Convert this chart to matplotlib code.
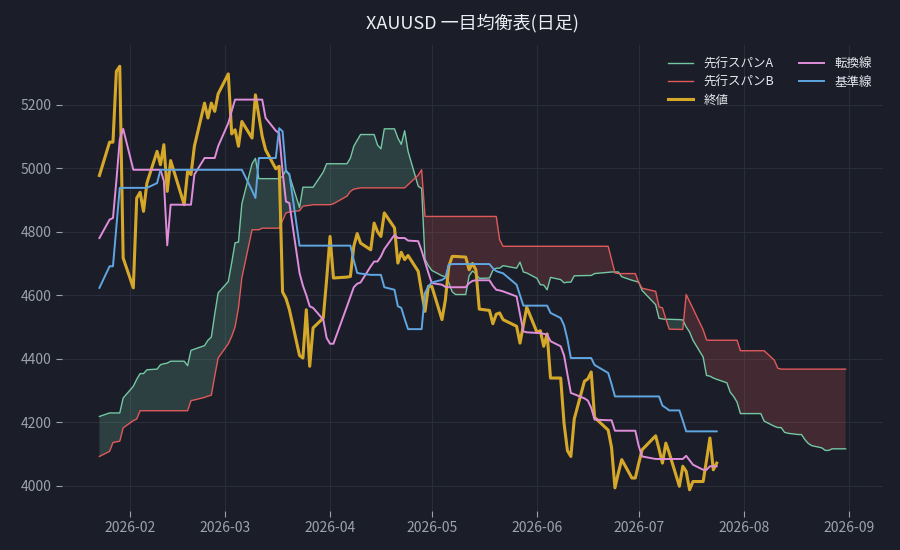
import matplotlib
matplotlib.use("Agg")
import matplotlib.pyplot as plt
import matplotlib.dates as mdates
import numpy as np
import pandas as pd

plt.rcParams['font.family'] = ['Noto Sans CJK JP', 'DejaVu Sans']

# ---------------- data ----------------
holidays = ['2026-02-16', '2026-04-03', '2026-05-25', '2026-06-19', '2026-07-03']
dates = pd.bdate_range('2026-01-23', '2026-07-24')
dates = dates[~dates.isin(pd.to_datetime(holidays))]
future_dates = pd.bdate_range('2026-07-27', '2026-08-31')
span_dates = dates.append(future_dates)

close = [
    4977, 5082, 5082, 5305, 5321, 4717,
    4623, 4906, 4924, 4864, 4953,
    5053, 5011, 5074, 4927, 5024,
    4885, 4990, 4980, 5069,
    5205, 5158, 5205, 5179, 5234,
    5297, 5108, 5121, 5069, 5147,
    5095, 5231, 5165, 5100, 5058,
    4998, 5006, 4610, 4590, 4555,
    4410, 4402, 4554, 4376, 4497,
    4528, 4650, 4785, 4654,
    4657, 4659, 4754, 4794, 4764,
    4743, 4827, 4800, 4785, 4859,
    4812, 4701, 4735, 4712, 4725,
    4675, 4610, 4549, 4628, 4628,
    4523, 4585, 4690, 4722, 4722,
    4720, 4680, 4700, 4680, 4556,
    4552, 4510, 4540, 4544, 4523,
    4502, 4449, 4505, 4562,
    4483, 4488, 4439, 4478, 4339,
    4339, 4195, 4110, 4092, 4210,
    4329, 4336, 4358, 4215,
    4175, 4120, 3993, 4040, 4082,
    4024, 4024, 4070, 4113,
    4157, 4115, 4071, 4134, 4103,
    3998, 4061, 4045, 3987, 4013,
    4013, 4080, 4150, 4050, 4071,
]

tenkan = [
    4780, 4838, 4843, 4960, 5090, 5124,
    4995, 4995, 4995, 4995, 4995,
    4995, 4995, 4960, 4757, 4885,
    4885, 4885, 4885, 4980,
    5032, 5032, 5032, 5032, 5069,
    5142, 5180, 5216, 5216, 5216,
    5216, 5216, 5216, 5216, 5158,
    5118, 5110, 4990, 4895, 4890,
    4670, 4630, 4600, 4565, 4560,
    4523, 4465, 4447, 4447,
    4565, 4595, 4625, 4636, 4640,
    4691, 4706, 4706, 4722, 4745,
    4790, 4780, 4780, 4780, 4772,
    4770, 4740, 4705, 4670, 4638,
    4633, 4626, 4625, 4625, 4625,
    4625, 4638, 4645, 4647, 4647,
    4647, 4630, 4617, 4615, 4612,
    4596, 4540, 4486, 4483,
    4481, 4481, 4478, 4476, 4455,
    4439, 4410, 4350, 4292, 4288,
    4275, 4268, 4245, 4208,
    4206, 4206, 4173, 4173, 4173,
    4173, 4173, 4125, 4092,
    4084, 4084, 4084, 4084, 4084,
    4084, 4084, 4094, 4080, 4066,
    4050, 4050, 4061, 4061, 4061,
]

kijun = [
    4623, 4691, 4691, 4815, 4938, 4938,
    4938, 4938, 4938, 4938, 4938,
    4953, 4995, 4995, 4995, 4995,
    4995, 4995, 4995, 4995,
    4995, 4995, 4995, 4995, 4995,
    4995, 4995, 4995, 4995, 4995,
    4930, 4906, 5032, 5032, 5032,
    5032, 5126, 5116, 4990, 4982,
    4756, 4756, 4756, 4756, 4756,
    4756, 4756, 4756, 4756,
    4756, 4756, 4710, 4670, 4668,
    4664, 4664, 4664, 4664, 4625,
    4617, 4565, 4560, 4525, 4493,
    4493, 4493, 4607, 4628, 4640,
    4648, 4655, 4696, 4698, 4698,
    4698, 4698, 4698, 4698, 4698,
    4698, 4685, 4676, 4672, 4669,
    4633, 4600, 4567, 4567,
    4567, 4567, 4567, 4567, 4544,
    4528, 4505, 4460, 4402, 4402,
    4402, 4402, 4402, 4380,
    4355, 4320, 4281, 4281, 4281,
    4281, 4281, 4281, 4281,
    4281, 4281, 4252, 4245, 4237,
    4237, 4205, 4171, 4171, 4171,
    4171, 4171, 4171, 4171, 4171,
]

span_a = [
    4218, 4229, 4229, 4229, 4229, 4276,
    4313, 4335, 4353, 4353, 4365,
    4367, 4381, 4384, 4386, 4392,
    4392, 4378, 4426, 4430,
    4441, 4458, 4468, 4540, 4607,
    4643, 4702, 4765, 4767, 4888,
    5014, 5031, 4967, 4967, 4967,
    4967, 4967, 4974, 4995, 4978,
    4876, 4940, 4940, 4940, 4940,
    4988, 5014, 5014, 5014,
    5014, 5032, 5069, 5088, 5106,
    5106, 5106, 5073, 5061, 5124,
    5124, 5095, 5075, 5118, 5053,
    4943, 4936, 4713, 4693, 4678,
    4661, 4658, 4640, 4611, 4602,
    4602, 4661, 4676, 4668, 4653,
    4654, 4678, 4685, 4685, 4693,
    4685, 4704, 4673, 4670,
    4653, 4633, 4632, 4617, 4656,
    4649, 4639, 4641, 4641, 4661,
    4662, 4662, 4662, 4668,
    4672, 4673, 4673, 4673, 4658,
    4647, 4644, 4641, 4615,
    4570, 4527, 4525, 4524, 4524,
    4523, 4522, 4500, 4484, 4458,
    4405, 4347, 4345, 4339, 4335,
    4324, 4294, 4281, 4263, 4227,
    4227, 4227, 4227, 4227, 4203,
    4187, 4183, 4183, 4168, 4165,
    4161, 4161, 4145, 4133, 4126,
    4119, 4111, 4111, 4116, 4116, 4116,
]

span_b = [
    4092, 4108, 4136, 4138, 4140, 4182,
    4205, 4210, 4236, 4236, 4236,
    4236, 4236, 4236, 4236, 4236,
    4236, 4236, 4268, 4270,
    4278, 4282, 4285, 4345, 4402,
    4447, 4470, 4500, 4560, 4655,
    4806, 4806, 4806, 4811, 4811,
    4811, 4811, 4835, 4859, 4862,
    4866, 4880, 4882, 4883, 4885,
    4885, 4885, 4885, 4888,
    4912, 4927, 4934, 4936, 4938,
    4938, 4938, 4938, 4938, 4938,
    4938, 4938, 4938, 4938, 4948,
    4978, 4995, 4848, 4848, 4848,
    4848, 4848, 4848, 4848, 4848,
    4848, 4848, 4848, 4848, 4848,
    4848, 4848, 4848, 4775, 4754,
    4754, 4754, 4754, 4754,
    4754, 4754, 4754, 4754, 4754,
    4754, 4754, 4754, 4754, 4754,
    4754, 4754, 4754, 4754,
    4754, 4712, 4670, 4668, 4668,
    4668, 4668, 4640, 4622,
    4612, 4563, 4560, 4525, 4493,
    4492, 4492, 4602, 4580, 4558,
    4491, 4459, 4458, 4458, 4458,
    4458, 4458, 4458, 4458, 4425,
    4425, 4425, 4425, 4425, 4425,
    4395, 4370, 4367, 4367, 4367,
    4367, 4367, 4367, 4367, 4367,
    4367, 4367, 4367, 4367, 4367, 4367,
]

labels = ['先行スパンA', '先行スパンB', '終値', '転換線', '基準線']
title = 'XAUUSD 一目均衡表(日足)'

# ---------------- style ----------------
BG = '#1b1e29'
C_A = '#74c7a2'
C_B = '#e05a5a'
C_CLOSE = '#d6a829'
C_TENKAN = '#e08edc'
C_KIJUN = '#5fa6e3'
TXT = '#9da2b0'

fig = plt.figure(figsize=(9, 5.5), dpi=100, facecolor=BG)
ax = fig.add_axes([0.069, 0.071, 0.912, 0.847], facecolor=BG)

a = np.array(span_a, dtype=float)
b = np.array(span_b, dtype=float)

ax.fill_between(span_dates, a, b, where=a >= b, interpolate=True,
                color=C_A, alpha=0.2, linewidth=0)
ax.fill_between(span_dates, a, b, where=a < b, interpolate=True,
                color=C_B, alpha=0.2, linewidth=0)

ax.plot(span_dates, a, color=C_A, lw=1.0, label=labels[0])
ax.plot(span_dates, b, color=C_B, lw=1.0, label=labels[1])
ax.plot(dates, close, color=C_CLOSE, lw=2.2, label=labels[2])
ax.plot(dates, tenkan, color=C_TENKAN, lw=1.4, label=labels[3])
ax.plot(dates, kijun, color=C_KIJUN, lw=1.4, label=labels[4])

ax.set_yticks(np.arange(4000, 5201, 200))
ax.xaxis.set_major_locator(mdates.MonthLocator())
ax.xaxis.set_major_formatter(mdates.DateFormatter('%Y-%m'))

ax.grid(True, color='#2a2e3b', lw=0.8)
ax.set_axisbelow(True)
for s in ax.spines.values():
    s.set_visible(False)
ax.tick_params(colors=TXT, labelsize=10, length=4, width=0.8)

ax.set_title(title, color='#eceef3', fontsize=13, pad=12)

leg = ax.legend(ncol=2, loc='upper right', frameon=False, fontsize=9,
                labelcolor='#e6e8ee', bbox_to_anchor=(1.0, 0.998),
                columnspacing=2.0, handlelength=2.0, labelspacing=0.42)

fig.savefig('out.png', dpi=100, facecolor=BG)
